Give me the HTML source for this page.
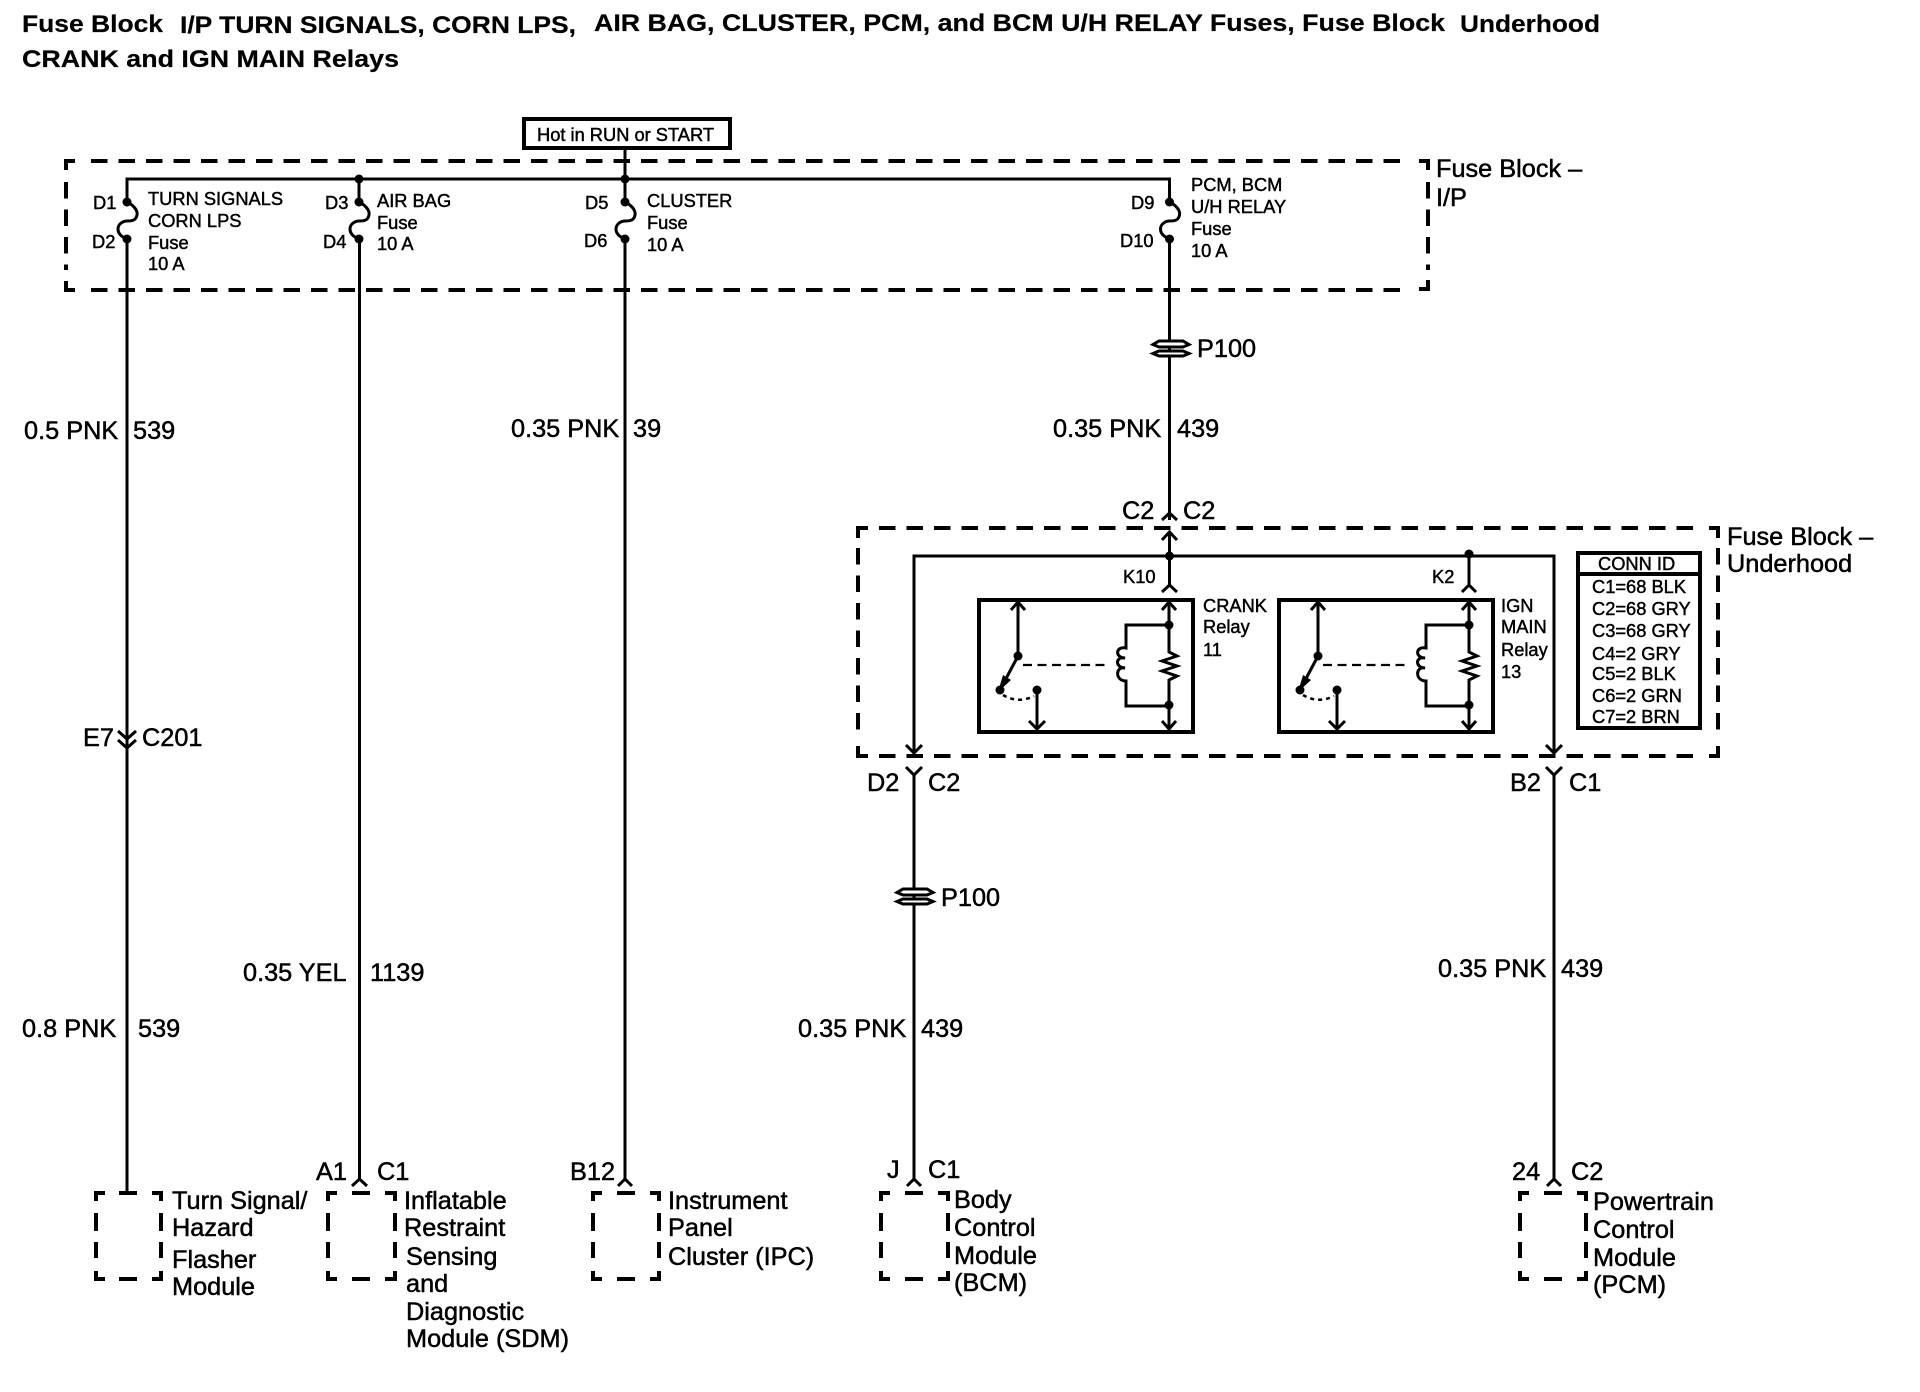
<!DOCTYPE html>
<html lang="en">
<head>
<meta charset="utf-8">
<title>Fuse Block Wiring Diagram</title>
<style>
html,body{margin:0;padding:0;background:#fff}
svg{display:block}
text{font-family:"Liberation Sans",Arial,sans-serif;fill:#000;stroke:#000;stroke-width:.5}
.a{font-size:25.300px}
.s{font-size:18.300px;stroke-width:.45}
.t{font-size:24px;font-weight:bold;stroke-width:.2}
.w{fill:none;stroke:#000;stroke-width:3}
.d{fill:none;stroke:#000;stroke-width:4;stroke-dasharray:16.5 11}
.m{fill:none;stroke:#000;stroke-width:4}
</style>
</head>
<body>
<svg xmlns="http://www.w3.org/2000/svg" width="1920" height="1392" viewBox="0 0 1920 1392">
<defs>
<g id="fuse">
<path class="w" d="M0 0C6 3 11 8 10 13C9 19 4 19 0 19C-4 19 -9 22 -9 27C-9 32 -5 35 0 37"/>
<circle cx="0" cy="0" r="4.5"/><circle cx="0" cy="37" r="4.5"/>
</g>
<g id="p100">
<path d="M-11 -8H13L19 -4.500L13 -2H-11L-17 -4.500Z" fill="#fff" stroke="#000" stroke-width="3"/>
<path d="M-11 2H13L19 4.500L13 7H-11L-17 4.500Z" fill="#fff" stroke="#000" stroke-width="3"/>
</g>
<g id="relay">
<rect x="979" y="600" width="214" height="132" class="m"/>
<path class="w" d="M1018 602V656L1001 688"/>
<path class="w" d="M1011 610L1018 602L1025 610"/>
<path d="M998 692L1003 675L1011 680Z"/>
<circle cx="1018" cy="656" r="4.500"/>
<circle cx="1000" cy="690" r="4.500"/>
<circle cx="1037" cy="690" r="4.500"/>
<path d="M1003 695Q1018 704 1034 696" fill="none" stroke="#000" stroke-width="2.500" stroke-dasharray="4 4"/>
<path class="w" d="M1037 690V729M1029 721L1037 729L1045 721"/>
<path d="M1023 665H1110" fill="none" stroke="#000" stroke-width="2.200" stroke-dasharray="9 5.500"/>
<path class="w" d="M1169 602V652L1177 656L1162 661L1177 666L1162 671L1177 676L1169 680V729"/>
<path class="w" d="M1162 610L1169 602L1176 610M1162 721L1169 729L1176 721"/>
<path class="w" d="M1169 625H1126V648C1115 646 1115 658 1125 658C1115 656 1115 668 1125 668C1115 666 1115 681 1126 681V706H1169"/>
<circle cx="1169" cy="625" r="4.500"/>
<circle cx="1169" cy="705" r="4.500"/>
</g>
</defs>

<!-- title -->
<text class="t" x="22" y="32" textLength="141" lengthAdjust="spacingAndGlyphs">Fuse Block</text>
<text class="t" x="180" y="33" textLength="396" lengthAdjust="spacingAndGlyphs">I/P TURN SIGNALS, CORN LPS,</text>
<text class="t" x="594" y="31" textLength="851" lengthAdjust="spacingAndGlyphs">AIR BAG, CLUSTER, PCM, and BCM U/H RELAY Fuses, Fuse Block</text>
<text class="t" x="1460" y="32" textLength="140" lengthAdjust="spacingAndGlyphs">Underhood</text>
<text class="t" x="22" y="67" textLength="377" lengthAdjust="spacingAndGlyphs">CRANK and IGN MAIN Relays</text>

<!-- Hot box -->
<rect x="524" y="119" width="206" height="29" class="m"/>
<text class="s" x="537" y="141" textLength="177" lengthAdjust="spacingAndGlyphs">Hot in RUN or START</text>

<!-- Fuse block IP dashed -->
<path class="m" d="M75 161H66V170M66 281V290H75M1419 161H1428V170M1428 280V289H1419"/>
<path class="d" d="M91 161H1410M91 290H1410M66 182V270M1428 182V270"/>
<text class="a" x="1436" y="177">Fuse Block –</text>
<text class="a" x="1436" y="206">I/P</text>

<!-- bus + wires -->
<path class="w" d="M127 202V179H1169.500V202M359 179V202M625 148V202"/>
<circle cx="359" cy="179" r="4.500"/><circle cx="625" cy="179" r="4.500"/>
<use href="#fuse" x="127" y="202"/><use href="#fuse" x="359" y="202"/>
<use href="#fuse" x="625" y="202"/><use href="#fuse" x="1169.500" y="202"/>
<path class="w" d="M127 239V1193M359.500 239V1180M625 239V1180M1169.500 239V520"/>

<!-- fuse labels -->
<text class="s" x="93" y="209">D1</text><text class="s" x="92" y="248">D2</text>
<text class="s" x="148" y="205">TURN SIGNALS</text><text class="s" x="148" y="227">CORN LPS</text>
<text class="s" x="148" y="249">Fuse</text><text class="s" x="148" y="270">10 A</text>
<text class="s" x="325" y="209">D3</text><text class="s" x="323" y="248">D4</text>
<text class="s" x="377" y="207">AIR BAG</text><text class="s" x="377" y="229">Fuse</text><text class="s" x="377" y="250">10 A</text>
<text class="s" x="585" y="209">D5</text><text class="s" x="584" y="247">D6</text>
<text class="s" x="647" y="207">CLUSTER</text><text class="s" x="647" y="229">Fuse</text><text class="s" x="647" y="251">10 A</text>
<text class="s" x="1131" y="209">D9</text><text class="s" x="1120" y="247">D10</text>
<text class="s" x="1191" y="191">PCM, BCM</text><text class="s" x="1191" y="213">U/H RELAY</text>
<text class="s" x="1191" y="235">Fuse</text><text class="s" x="1191" y="257">10 A</text>

<!-- P100 top -->
<use href="#p100" x="1170" y="349"/>
<text class="a" x="1197" y="357">P100</text>

<!-- wire labels -->
<text class="a" x="24" y="439">0.5 PNK</text><text class="a" x="133" y="439">539</text>
<text class="a" x="511" y="437">0.35 PNK</text><text class="a" x="633" y="437">39</text>
<text class="a" x="1053" y="437">0.35 PNK</text><text class="a" x="1177" y="437">439</text>

<!-- C201 -->
<path class="w" d="M118 731L127 739L136 731M118 740L127 748L136 740"/>
<text class="a" x="83" y="746">E7</text><text class="a" x="142" y="746">C201</text>

<text class="a" x="22" y="1037">0.8 PNK</text><text class="a" x="138" y="1037">539</text>
<text class="a" x="243" y="981">0.35 YEL</text><text class="a" x="370" y="981">1139</text>
<text class="a" x="798" y="1037">0.35 PNK</text><text class="a" x="921" y="1037">439</text>
<text class="a" x="1438" y="977">0.35 PNK</text><text class="a" x="1561" y="977">439</text>

<!-- Underhood block -->
<text class="a" x="1122" y="519">C2</text><text class="a" x="1183" y="519">C2</text>
<path class="w" d="M1162 520L1169.500 513L1177 520M1162 540L1169.500 532L1177 540M1162 592L1169.500 585L1177 592"/>
<path class="w" d="M1169.500 532V585"/>
<path class="m" d="M868 528H858V538M858 746V756H868M1709 528H1718V538M1718 746V756H1709"/>
<path class="d" d="M879 528H1702M879 756H1702M858 548V736M1718 548V736"/>
<text class="a" x="1727" y="545">Fuse Block –</text>
<text class="a" x="1727" y="572">Underhood</text>

<path class="w" d="M914 753V556H1554V753M906 745L914 753L922 745M1546 745L1554 753L1562 745"/>
<circle cx="1169.500" cy="556" r="4.500"/><circle cx="1469" cy="554" r="4.500"/>
<path class="w" d="M1469 554V585M1462 592L1469 585L1476 592"/>
<text class="s" x="1123" y="583">K10</text>
<text class="s" x="1432" y="583">K2</text>

<use href="#relay"/>
<use href="#relay" x="300"/>
<text class="s" x="1203" y="612">CRANK</text><text class="s" x="1203" y="633">Relay</text><text class="s" x="1203" y="656">11</text>
<text class="s" x="1501" y="612">IGN</text><text class="s" x="1501" y="633">MAIN</text><text class="s" x="1501" y="656">Relay</text><text class="s" x="1501" y="678">13</text>

<!-- CONN ID -->
<rect x="1578" y="553" width="122" height="175" class="m"/>
<path class="m" d="M1578 574H1700"/>
<text class="s" x="1598" y="570">CONN ID</text>
<text class="s" x="1592" y="593">C1=68 BLK</text>
<text class="s" x="1592" y="615">C2=68 GRY</text>
<text class="s" x="1592" y="637">C3=68 GRY</text>
<text class="s" x="1592" y="660">C4=2 GRY</text>
<text class="s" x="1592" y="680">C5=2 BLK</text>
<text class="s" x="1592" y="702">C6=2 GRN</text>
<text class="s" x="1592" y="723">C7=2 BRN</text>

<!-- below underhood -->
<path class="w" d="M914 775V1180M906 767L914 775L922 767M1554 775V1180M1546 767L1554 775L1562 767"/>
<text class="a" x="867" y="791">D2</text><text class="a" x="928" y="791">C2</text>
<text class="a" x="1510" y="791">B2</text><text class="a" x="1569" y="791">C1</text>
<use href="#p100" x="914" y="897"/>
<text class="a" x="941" y="906">P100</text>

<!-- bottom chevrons & connector labels -->
<path class="w" d="M352 1186L359.500 1179L367 1186M618 1186L625 1179L632 1186M907 1186L914 1179L921 1186M1547 1186L1554 1179L1561 1186"/>
<text class="a" x="316" y="1180">A1</text><text class="a" x="377" y="1180">C1</text>
<text class="a" x="570" y="1180">B12</text>
<text class="a" x="887" y="1178">J</text><text class="a" x="928" y="1178">C1</text>
<text class="a" x="1512" y="1180">24</text><text class="a" x="1571" y="1180">C2</text>

<!-- modules -->
<path class="m" d="M105 1193H96V1201M96 1213V1231M96 1242V1258M96 1271V1279H105M119 1279H137M152 1279H161V1271M161 1258V1242M161 1231V1213M161 1201V1193H152M119 1193H137"/>
<path class="m" d="M337 1193H328V1201M328 1213V1231M328 1242V1258M328 1271V1279H337M352 1279H370M385 1279H395V1271M395 1258V1242M395 1231V1213M395 1201V1193H385M352 1193H370"/>
<path class="m" d="M602 1193H593V1201M593 1213V1231M593 1242V1258M593 1271V1279H602M617 1279H635M650 1279H659V1271M659 1258V1242M659 1231V1213M659 1201V1193H650M617 1193H635"/>
<path class="m" d="M890 1193H881V1201M881 1213V1231M881 1242V1258M881 1271V1279H890M905 1279H923M938 1279H948V1271M948 1258V1242M948 1231V1213M948 1201V1193H938M905 1193H923"/>
<path class="m" d="M1529 1193H1520V1201M1520 1213V1231M1520 1242V1258M1520 1271V1279H1529M1544 1279H1562M1577 1279H1586V1271M1586 1258V1242M1586 1231V1213M1586 1201V1193H1577M1544 1193H1562"/>

<!-- module labels -->
<text class="a" x="172" y="1209">Turn Signal/</text><text class="a" x="172" y="1236">Hazard</text>
<text class="a" x="172" y="1268">Flasher</text><text class="a" x="172" y="1295">Module</text>
<text class="a" x="404" y="1209">Inflatable</text><text class="a" x="404" y="1236">Restraint</text>
<text class="a" x="406" y="1265">Sensing</text><text class="a" x="406" y="1292">and</text>
<text class="a" x="406" y="1320">Diagnostic</text><text class="a" x="406" y="1347">Module (SDM)</text>
<text class="a" x="668" y="1209">Instrument</text><text class="a" x="668" y="1236">Panel</text><text class="a" x="668" y="1265">Cluster (IPC)</text>
<text class="a" x="954" y="1208">Body</text><text class="a" x="954" y="1236">Control</text>
<text class="a" x="954" y="1264">Module</text><text class="a" x="954" y="1291">(BCM)</text>
<text class="a" x="1593" y="1210">Powertrain</text><text class="a" x="1593" y="1238">Control</text>
<text class="a" x="1593" y="1266">Module</text><text class="a" x="1593" y="1293">(PCM)</text>
</svg>
</body>
</html>
